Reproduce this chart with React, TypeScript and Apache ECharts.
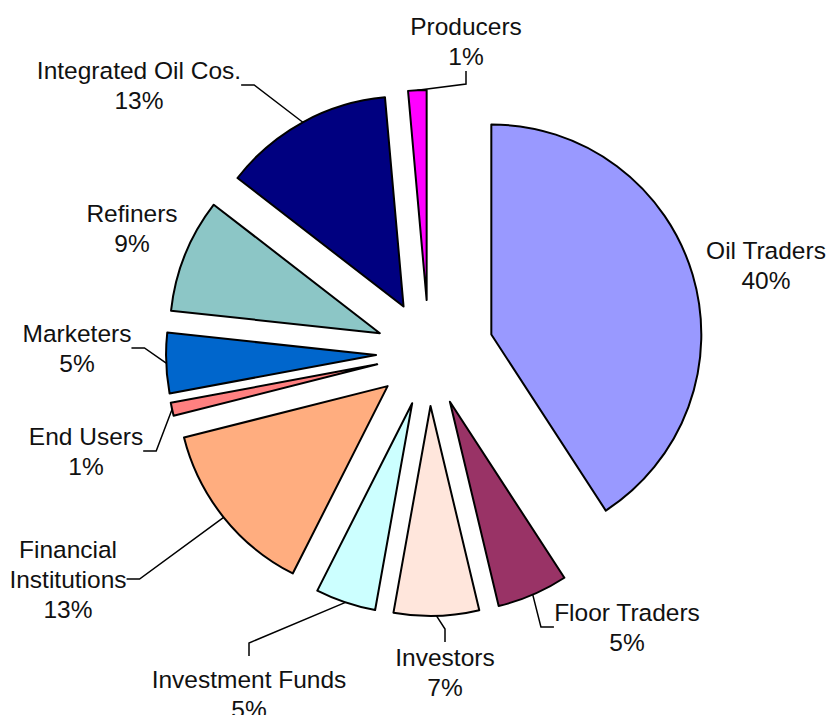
import React, { useEffect, useRef } from "react";
import * as echarts from "echarts";

// Data (clockwise from 12 o'clock)
const categories = [
  "Oil Traders",
  "Floor Traders",
  "Investors",
  "Investment Funds",
  "Financial Institutions",
  "End Users",
  "Marketers",
  "Refiners",
  "Integrated Oil Cos.",
  "Producers",
];
const shares = [40.49, 5.4, 6.5, 4.6, 13.49, 1.0, 4.6, 8.7, 13.0, 1.4];

// Styles / layout (kept apart from the data)
const sliceColors = [
  "#9999FF",
  "#993366",
  "#FFE6DC",
  "#CCFFFF",
  "#FFAD7F",
  "#FF8080",
  "#0066CC",
  "#8CC6C6",
  "#000080",
  "#FF00FF",
];
const explodeOffsets = [65, 53, 53, 53, 53, 53, 53, 53, 53, 53];
const labelCenters: [number, number][] = [
  [766, 265],
  [627, 627],
  [445, 672],
  [249, 694],
  [68, 579],
  [86, 451],
  [77, 348],
  [132, 228],
  [139, 85],
  [466, 41],
];
const showLeader = [false, true, true, true, true, true, true, false, true, true];
// leader lines that leave from the top of the label (vertical stub), as in the reference
const topStubLeader = [false, false, false, true, false, false, false, false, false, false];

const PIE_CX = 429;
const PIE_CY = 353;
const PIE_R = 210;
const BORDER_W = 2;

const displayName = (n: string) =>
  n === "Financial Institutions" ? "Financial\nInstitutions" : n;

export default function App() {
  const ref = useRef<HTMLDivElement>(null);
  useEffect(() => {
    if (!ref.current) return;
    const chart = echarts.init(ref.current, null, { renderer: "svg" });
    const total = shares.reduce((a, b) => a + b, 0);
    let acc = 0;
    const series = categories.map((_, i) => {
      const mid = ((acc + shares[i] / 2) / total) * 2 * Math.PI;
      acc += shares[i];
      const d = explodeOffsets[i];
      const cx = PIE_CX + d * Math.sin(mid);
      const cy = PIE_CY - d * Math.cos(mid);
      const arcMid = [cx + PIE_R * Math.sin(mid), cy - PIE_R * Math.cos(mid)];
      return {
        type: "pie",
        center: [cx, cy],
        radius: [0, PIE_R],
        startAngle: 90,
        clockwise: true,
        avoidLabelOverlap: false,
        silent: true,
        emphasis: { disabled: true },
        z: i === 0 ? 3 : 2,
        label: {
          show: false,
          position: "outside",
          fontFamily: "Liberation Sans, Arial, sans-serif",
          fontSize: 24.5,
          lineHeight: 30,
          color: "#111111",
          align: "center",
          formatter: (p: any) =>
            `${displayName(p.name)}\n${Math.round(p.value)}%`,
        },
        labelLine: {
          show: false,
          length: 10,
          length2: 13,
          lineStyle: { color: "#000000", width: 1.5 },
        },
        labelLayout: (params: any) => {
          const c = labelCenters[params.dataIndex];
          const out: any = {
            x: c[0],
            y: c[1],
            align: "center",
            verticalAlign: "middle",
          };
          if (topStubLeader[params.dataIndex] && params.labelRect) {
            const top = c[1] - params.labelRect.height / 2;
            out.labelLinePoints = [
              arcMid,
              [c[0], top - 21],
              [c[0], top - 8],
            ];
          }
          return out;
        },
        data: categories.map((name, j) =>
          j === i
            ? {
                name,
                value: shares[j],
                itemStyle: {
                  color: sliceColors[j],
                  borderColor: "#000000",
                  borderWidth: BORDER_W,
                },
                label: { show: true },
                labelLine: { show: showLeader[j] },
              }
            : {
                name,
                value: shares[j],
                itemStyle: { color: "rgba(0,0,0,0)", borderWidth: 0 },
                label: { show: false },
                labelLine: { show: false },
              }
        ),
      };
    });
    chart.setOption({
      animation: false,
      backgroundColor: "#ffffff",
      series,
    });
    return () => chart.dispose();
  }, []);
  return (
    <div
      ref={ref}
      style={{ position: "absolute", left: 0, top: 0, width: 831, height: 715 }}
    />
  );
}
